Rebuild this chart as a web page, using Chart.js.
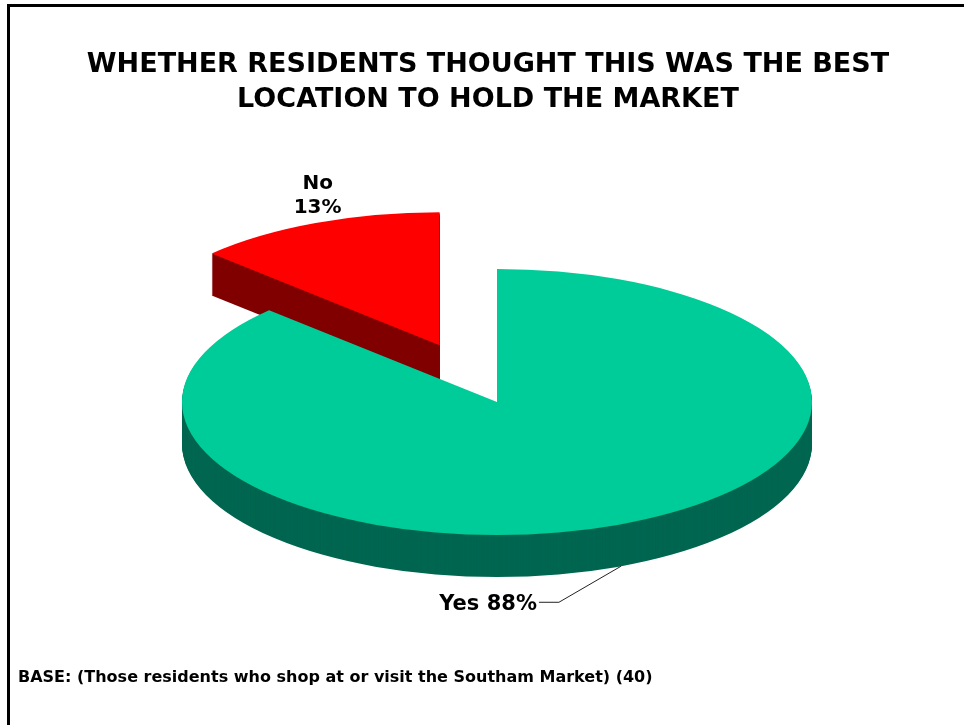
<!DOCTYPE html>
<html>
<head>
<meta charset="utf-8">
<script src="https://cdn.jsdelivr.net/npm/chart.js@4/dist/chart.umd.min.js"></script>
<style>
  html, body { margin: 0; padding: 0; background: #fff; }
  #wrap { position: relative; width: 964px; height: 725px; }
</style>
</head>
<body>
<div id="wrap"><canvas id="pie"></canvas></div>
<script>
const labels = ['Yes', 'No'];
const values = [88, 13];
const titleLines = ['WHETHER RESIDENTS THOUGHT THIS WAS THE BEST', 'LOCATION TO HOLD THE MARKET'];
const baseNote = 'BASE: (Those residents who shop at or visit the Southam Market) (40)';

const topColors = ['#00cc99', '#ff0000'];
const sideColors = ['#006650', '#800000'];

const FONT = '"DejaVu Sans", Verdana, sans-serif';
const TILT = 133 / 315;   // vertical squash of the pie
const DEPTH = 42;         // thickness of the pie wall, px
const PULL = [0, 146];    // how far each slice is pulled out along its middle

function sliceGeom(arc, i) {
    const mid = (arc.startAngle + arc.endAngle) / 2;
    return {
        x: arc.x + Math.cos(mid) * PULL[i],
        y: arc.y + Math.sin(mid) * PULL[i] * TILT,
        r: arc.outerRadius,
        a0: arc.startAngle,
        a1: arc.endAngle,
        mid: mid
    };
}

function sectorPath(ctx, g, dy) {
    ctx.beginPath();
    ctx.moveTo(g.x, g.y + dy);
    ctx.ellipse(g.x, g.y + dy, g.r, g.r * TILT, 0, g.a0, g.a1);
    ctx.closePath();
}

const pie3d = {
    id: 'pie3d',
    beforeDatasetsDraw(chart) {
        const ctx = chart.ctx;
        const arcs = chart.getDatasetMeta(0).data;
        const geoms = arcs.map((a, i) => sliceGeom(a, i));
        // back slice first so the big slice covers its wall
        const order = arcs.map((a, i) => i).reverse();

        ctx.save();
        // walls: the face pushed down one pixel at a time
        order.forEach(i => {
            ctx.fillStyle = sideColors[i];
            for (let d = DEPTH; d >= 1; d--) {
                sectorPath(ctx, geoms[i], d);
                ctx.fill();
            }
        });
        order.forEach(i => {
            ctx.fillStyle = topColors[i];
            sectorPath(ctx, geoms[i], 0);
            ctx.fill();
        });
        ctx.restore();
        return false;
    },
    afterDraw(chart) {
        const ctx = chart.ctx;
        const arcs = chart.getDatasetMeta(0).data;
        ctx.save();

        // frame
        ctx.fillStyle = '#000';
        ctx.fillRect(7, 4, 957, 3);
        ctx.fillRect(7, 4, 3, 721);

        // title
        ctx.textAlign = 'center';
        ctx.textBaseline = 'alphabetic';
        ctx.font = 'bold 27px ' + FONT;
        ctx.fillText(titleLines[0], 488, 72);
        ctx.fillText(titleLines[1], 488, 107);

        // base note
        ctx.textAlign = 'left';
        ctx.font = 'bold 16px ' + FONT;
        ctx.fillText(baseNote, 18, 682);

        // slice labels
        ctx.font = 'bold 20px ' + FONT;

        // No: above the pulled-out slice
        const gNo = sliceGeom(arcs[1], 1);
        const nx = gNo.x + Math.cos(gNo.mid) * gNo.r;
        const ny = gNo.y + Math.sin(gNo.mid) * gNo.r * TILT;
        ctx.textAlign = 'center';
        ctx.fillText(labels[1], nx + 2, ny - 34);
        ctx.fillText(values[1] + '%', nx + 2, ny - 10);

        // Yes: leader line from the bottom of the wall
        const gYes = sliceGeom(arcs[0], 0);
        const sx = gYes.x + Math.cos(gYes.mid) * gYes.r;
        const sy = gYes.y + Math.sin(gYes.mid) * gYes.r * TILT + DEPTH;
        const ex = sx - 62, ey = sy + 36;
        ctx.strokeStyle = '#222';
        ctx.lineWidth = 1;
        ctx.beginPath();
        ctx.moveTo(sx, sy);
        ctx.lineTo(ex, ey);
        ctx.lineTo(ex - 20, ey);
        ctx.stroke();
        ctx.font = 'bold 21px ' + FONT;
        ctx.textAlign = 'right';
        ctx.fillText(labels[0] + ' ' + values[0] + '%', ex - 22, ey + 8);

        ctx.restore();
    }
};

new Chart(document.getElementById('pie'), {
    type: 'pie',
    data: {
        labels: labels,
        datasets: [{
            data: values,
            backgroundColor: topColors,
            borderWidth: 0
        }]
    },
    options: {
        responsive: true,
        maintainAspectRatio: false,
        animation: false,
        events: [],
        radius: 315,
        layout: { padding: { left: 30, top: 79, right: 0, bottom: 0 } },
        plugins: {
            legend: { display: false },
            tooltip: { enabled: false }
        }
    },
    plugins: [pie3d]
});
</script>
</body>
</html>
